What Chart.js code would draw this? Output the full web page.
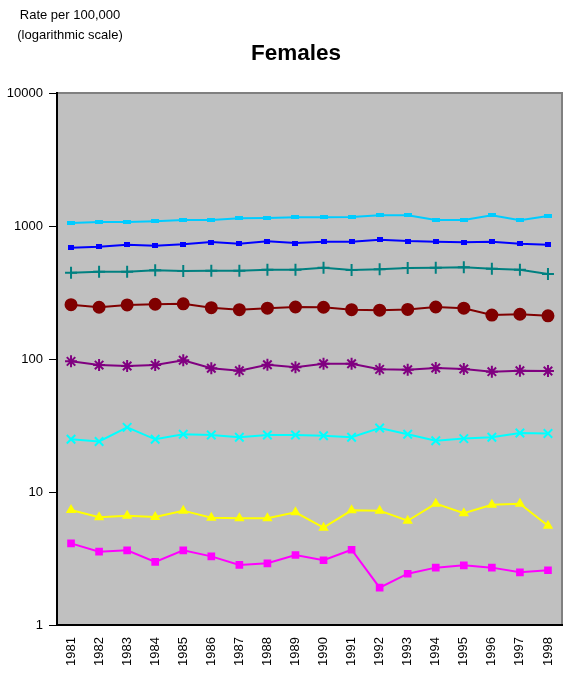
<!DOCTYPE html>
<html><head><meta charset="utf-8">
<script src="https://cdn.jsdelivr.net/npm/chart.js@4"></script>
<style>html,body{margin:0;padding:0;background:#fff}#wrap{width:572px;height:673px;position:relative}</style>
</head><body><div id="wrap"><canvas id="c"></canvas></div>
<script>
const years = ["1981","1982","1983","1984","1985","1986","1987","1988","1989","1990","1991","1992","1993","1994","1995","1996","1997","1998"];
const yTicks = [1,10,100,1000,10000];
const s1 = [1054,1071,1071,1088,1110,1110,1143,1149,1162,1162,1169,1203,1203,1110,1110,1203,1104,1189];
const s2 = [687,699,724,711,728,758,736,767,745,762,762,789,771,762,754,762,736,724];
const s3 = [446,453,453,464,459,461,461,469,469,486,467,472,483,486,489,477,469,436];
const s4 = [256,245,255,258,260,243,235,241,246,245,235,233,236,246,241,214,217,211];
const s5 = [96,90,88.6,90,97.8,85.1,81.7,90.6,86.6,92.2,92.2,83.6,83.1,85.5,84.1,80.3,81.7,81.2];
const s6 = [24.9,24.0,30.6,24.9,27.2,26.8,25.8,26.8,26.8,26.5,25.8,30.3,27.2,24.3,25.2,25.8,27.8,27.5];
const s7 = [7.32,6.45,6.64,6.49,7.24,6.41,6.34,6.34,7.03,5.39,7.28,7.24,6.08,8.17,6.92,8.03,8.17,5.58];
const s8 = [4.11,3.56,3.64,2.98,3.64,3.28,2.83,2.91,3.36,3.07,3.68,1.91,2.43,2.70,2.81,2.70,2.49,2.58];
const titleText = "Females";
const yLabelLines = ["Rate per 100,000", "(logarithmic scale)"];

const FONT = "'Liberation Sans', Arial, sans-serif";

function barMarker(w, h, color){
  const c = document.createElement('canvas');
  c.width = w; c.height = h;
  const g = c.getContext('2d');
  g.fillStyle = color;
  g.fillRect(0, 0, w, h);
  return c;
}

function ds(data, color, style, r){
  return {data: data, borderColor: color, backgroundColor: color, pointStyle: style, pointRadius: r,
    pointBorderColor: color, pointBackgroundColor: color, borderWidth: 2, pointBorderWidth: 2,
    pointHoverRadius: r, tension: 0, fill: false};
}

const bgPlugin = {
  id: 'bg',
  beforeDraw(chart){
    const a = chart.chartArea, ctx = chart.ctx;
    ctx.save();
    ctx.fillStyle = '#C0C0C0';
    ctx.fillRect(a.left, a.top, a.right - a.left, a.bottom - a.top);
    ctx.strokeStyle = '#808080';
    ctx.lineWidth = 2;
    ctx.beginPath();
    ctx.moveTo(a.left, a.top); ctx.lineTo(a.right, a.top); ctx.lineTo(a.right, a.bottom);
    ctx.stroke();
    ctx.restore();
  },
  afterDraw(chart){
    const ctx = chart.ctx;
    ctx.save();
    ctx.fillStyle = '#000';
    ctx.textAlign = 'center';
    ctx.textBaseline = 'middle';
    ctx.font = "13px " + FONT;
    ctx.fillText(yLabelLines[0], 70, 15);
    ctx.fillText(yLabelLines[1], 70, 35);
    ctx.font = "bold 22.5px " + FONT;
    ctx.fillText(titleText, 296, 54);
    ctx.restore();
  }
};

new Chart(document.getElementById('c'), {
  type: 'line',
  data: {
    labels: years,
    datasets: [
      ds(s1, '#00CCFF', barMarker(8, 4, '#00CCFF'), 4),
      ds(s2, '#0000FF', barMarker(6, 5, '#0000FF'), 3),
      ds(s3, '#008080', 'cross', 6),
      ds(s4, '#800000', 'circle', 5.5),
      ds(s5, '#800080', 'star', 6),
      ds(s6, '#00FFFF', 'crossRot', 6),
      ds(s7, '#FFFF00', 'triangle', 4),
      ds(s8, '#FF00FF', 'rect', 4)
    ]
  },
  options: {
    responsive: true,
    maintainAspectRatio: false,
    animation: false,
    layout: {padding: {left: 0, top: 93, right: 10, bottom: 0}},
    plugins: {legend: {display: false}, title: {display: false}, tooltip: {enabled: false}},
    scales: {
      x: {
        offset: true,
        grid: {display: false, drawTicks: false},
        border: {display: true, color: '#000', width: 2},
        ticks: {color: '#000', font: {family: FONT, size: 13}, minRotation: 90, maxRotation: 90, padding: 12, autoSkip: false},
        afterFit(scale){ scale.height = 48; scale.paddingLeft = 0; scale.paddingRight = 0; }
      },
      y: {
        type: 'logarithmic',
        min: 1, max: 10000,
        afterBuildTicks(scale){ scale.ticks = yTicks.map(v => ({value: v})); },
        grid: {drawOnChartArea: false, drawTicks: true, tickLength: 8, color: '#000', tickColor: '#000'},
        border: {display: true, color: '#000', width: 2},
        ticks: {color: '#000', font: {family: FONT, size: 13}, padding: 6, callback: v => String(v)},
        afterFit(scale){ scale.width = 57; scale.paddingTop = 0; scale.paddingBottom = 0; }
      }
    }
  },
  plugins: [bgPlugin]
});
</script>
</body></html>
